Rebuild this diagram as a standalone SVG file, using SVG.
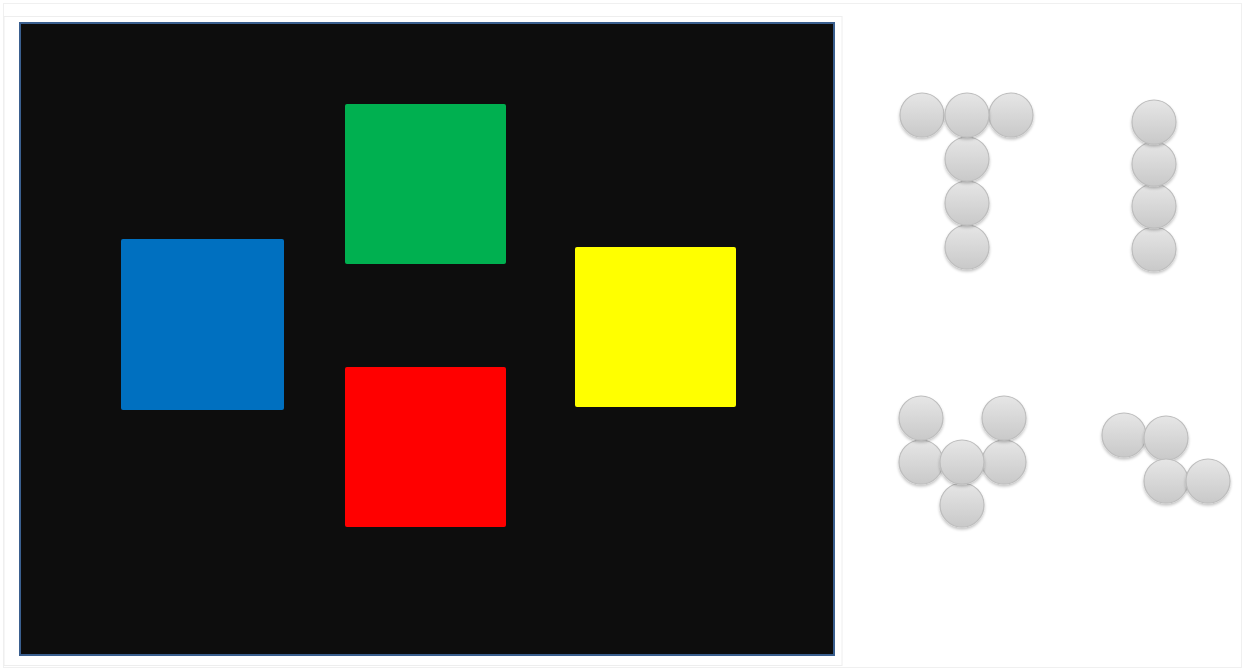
<svg xmlns="http://www.w3.org/2000/svg" width="1245" height="671" viewBox="0 0 1245 671">
<style>
.ball{fill:url(#bg);stroke:#bdbdbd;stroke-width:1.2;filter:url(#sh)}
.sq{stroke:none}
</style>
<defs>
<linearGradient id="bg" x1="0" y1="0" x2="0" y2="1">
<stop offset="0" stop-color="#e6e6e6"/>
<stop offset="1" stop-color="#c9c9c9"/>
</linearGradient>
<filter id="sh" x="-30%" y="-30%" width="160%" height="170%">
<feGaussianBlur in="SourceAlpha" stdDeviation="1.5"/>
<feOffset dy="1.5" result="b"/>
<feComponentTransfer><feFuncA type="linear" slope="0.25"/></feComponentTransfer>
<feMerge><feMergeNode/><feMergeNode in="SourceGraphic"/></feMerge>
</filter>
</defs>
<rect x="0" y="0" width="1245" height="671" fill="#ffffff"/>
<rect x="3.5" y="3.5" width="1238" height="664" fill="none" stroke="#f0f0f0" stroke-width="1"/>
<rect x="4" y="16.5" width="838" height="649" fill="none" stroke="#eeeeee" stroke-width="1"/>
<g id="panel">
<rect x="20" y="23" width="814" height="632" fill="#0d0d0d" stroke="#3a5f8f" stroke-width="2"/>
</g>
<g id="green"><rect class="sq" x="345" y="104" width="161" height="160" rx="2" fill="#00b050"/></g>
<g id="blue"><rect class="sq" x="121" y="239" width="163" height="171" rx="2" fill="#0070c0"/></g>
<g id="yellow"><rect class="sq" x="575" y="247" width="161" height="160" rx="2" fill="#ffff00"/></g>
<g id="red"><rect class="sq" x="345" y="367" width="161" height="160" rx="2" fill="#ff0000"/></g>
<g id="shapeT">
<circle class="ball" cx="967" cy="247" r="22"/>
<circle class="ball" cx="967" cy="203" r="22"/>
<circle class="ball" cx="967" cy="159" r="22"/>
<circle class="ball" cx="922" cy="115" r="22"/>
<circle class="ball" cx="1011" cy="115" r="22"/>
<circle class="ball" cx="967" cy="115" r="22"/>
</g>
<g id="shapeI">
<circle class="ball" cx="1154" cy="249" r="22"/>
<circle class="ball" cx="1154" cy="206" r="22"/>
<circle class="ball" cx="1154" cy="164" r="22"/>
<circle class="ball" cx="1154" cy="122" r="22"/>
</g>
<g id="shapeW">
<circle class="ball" cx="962" cy="505" r="22"/>
<circle class="ball" cx="921" cy="462" r="22"/>
<circle class="ball" cx="1004" cy="462" r="22"/>
<circle class="ball" cx="962" cy="462" r="22"/>
<circle class="ball" cx="921" cy="418" r="22"/>
<circle class="ball" cx="1004" cy="418" r="22"/>
</g>
<g id="shapeZ">
<circle class="ball" cx="1124" cy="435" r="22"/>
<circle class="ball" cx="1166" cy="438" r="22"/>
<circle class="ball" cx="1166" cy="481" r="22"/>
<circle class="ball" cx="1208" cy="481" r="22"/>
</g>
<g id="connectors"/>
</svg>
